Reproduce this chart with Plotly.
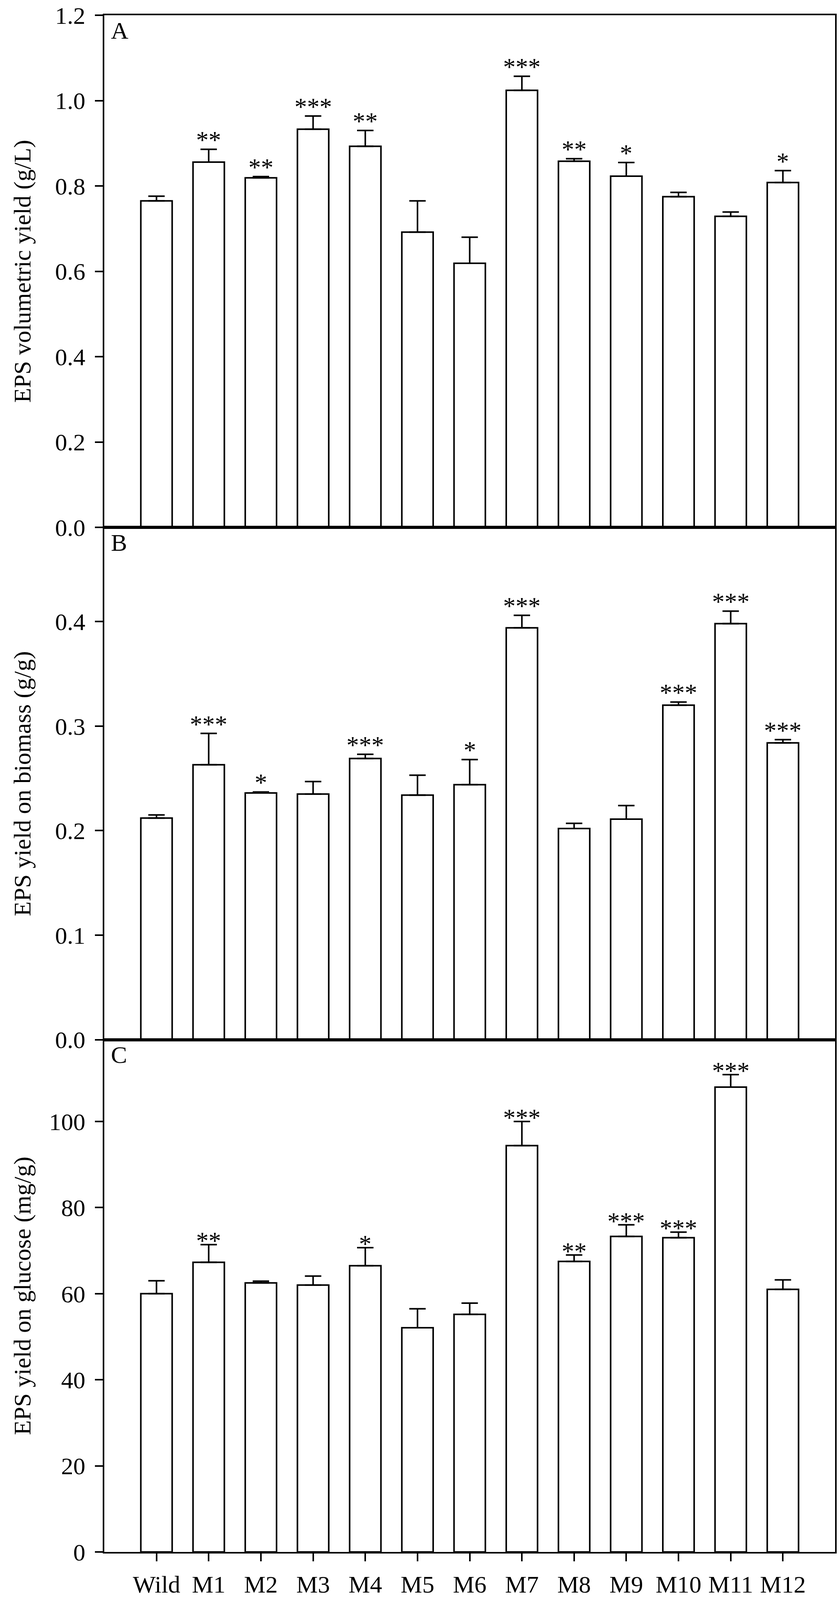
import plotly.graph_objects as go
from plotly.subplots import make_subplots

# ---- data ----
strains = ["Wild", "M1", "M2", "M3", "M4", "M5", "M6", "M7", "M8", "M9", "M10", "M11", "M12"]

# A: EPS volumetric yield (g/L)
vol_yield = [0.765, 0.856, 0.819, 0.933, 0.893, 0.692, 0.619, 1.024, 0.858, 0.823, 0.775, 0.729, 0.808]
vol_err = [0.011, 0.030, 0.003, 0.031, 0.037, 0.073, 0.061, 0.033, 0.006, 0.032, 0.010, 0.010, 0.028]
vol_sig = ["", "**", "**", "***", "**", "", "", "***", "**", "*", "", "", "*"]

# B: EPS yield on biomass (g/g)
bio_yield = [0.212, 0.263, 0.236, 0.235, 0.269, 0.234, 0.244, 0.394, 0.202, 0.211, 0.320, 0.398, 0.284]
bio_err = [0.003, 0.030, 0.001, 0.012, 0.004, 0.019, 0.024, 0.012, 0.005, 0.013, 0.003, 0.012, 0.003]
bio_sig = ["", "***", "*", "", "***", "", "*", "***", "", "", "***", "***", "***"]

# C: EPS yield on glucose (mg/g)
glc_yield = [60.0, 67.3, 62.5, 62.0, 66.5, 52.1, 55.2, 94.4, 67.5, 73.3, 73.0, 108.0, 61.0]
glc_err = [3.0, 4.1, 0.4, 2.1, 4.2, 4.4, 2.6, 5.6, 1.5, 2.7, 1.3, 2.9, 2.2]
glc_sig = ["", "**", "", "", "*", "", "", "***", "**", "***", "***", "***", ""]

panels = [
    ("A", "EPS volumetric yield (g/L)", vol_yield, vol_err, vol_sig, [0, 1.2], [0, 0.2, 0.4, 0.6, 0.8, 1.0, 1.2], ".1f", -14),
    ("B", "EPS yield on biomass (g/g)", bio_yield, bio_err, bio_sig, [0, 0.49], [0, 0.1, 0.2, 0.3, 0.4], ".1f", -14),
    ("C", "EPS yield on glucose (mg/g)", glc_yield, glc_err, glc_sig, [0, 119], [0, 20, 40, 60, 80, 100], "d", -28),
]

FONT = "Liberation Serif, Times New Roman, serif"
LW = 4
W, H = 2148, 4211
M_TOP, M_BOT = 39, 116

fig = make_subplots(rows=3, cols=1, shared_xaxes=True, vertical_spacing=0)

for i, (letter, ytitle, vals, errs, sig, yr, yt, fmt, shift) in enumerate(panels):
    row = i + 1
    ax = "" if row == 1 else str(row)
    fig.add_trace(go.Bar(
        x=strains, y=vals, width=0.6,
        marker=dict(color="white", line=dict(color="black", width=LW)),
        error_y=dict(type="data", symmetric=False, array=errs, arrayminus=[0] * len(errs),
                     color="black", thickness=LW, width=21),
        showlegend=False,
    ), row=row, col=1)

    # significance stars
    for s, v, e, star in zip(strains, vals, errs, sig):
        if star:
            fig.add_annotation(x=s, y=v + e, text=star, showarrow=False,
                               xref="x" + ax, yref="y" + ax,
                               yanchor="bottom", yshift=shift,
                               font=dict(family=FONT, size=64, color="black"))

    # panel letter
    fig.add_annotation(text=letter, x=0.008, y=0.998, showarrow=False,
                       xref="x" + ax + " domain", yref="y" + ax + " domain",
                       xanchor="left", yanchor="top",
                       font=dict(family=FONT, size=62, color="black"))

    # y title
    fig.add_annotation(text=ytitle, x=-0.112, y=0.5, textangle=-90, showarrow=False,
                       xref="paper", yref="y" + ax + " domain",
                       xanchor="center", yanchor="middle",
                       font=dict(family=FONT, size=62, color="black"))

    fig.update_yaxes(range=yr, tickvals=yt, tickformat=fmt,
                     showline=True, mirror=True, linecolor="black", linewidth=LW,
                     ticks="outside", ticklen=20, tickwidth=LW, tickcolor="black",
                     ticklabelstandoff=12,
                     showgrid=False, zeroline=False,
                     tickfont=dict(family=FONT, size=62, color="black"),
                     row=row, col=1)
    fig.update_xaxes(range=[-1, 13], showline=True, mirror=True, linecolor="black", linewidth=LW,
                     showgrid=False, zeroline=False,
                     ticks="outside" if row == 3 else "", ticklen=20, tickwidth=LW, tickcolor="black",
                     showticklabels=(row == 3), ticklabelstandoff=6,
                     tickfont=dict(family=FONT, size=62, color="black"),
                     row=row, col=1)

fig.update_layout(
    width=W, height=H,
    margin=dict(l=267, r=6, t=M_TOP, b=M_BOT),
    plot_bgcolor="white", paper_bgcolor="white",
    font=dict(family=FONT, color="black"),
)

# fit the figure to the visible page if the viewport is smaller than asked
fit_js = f"""
document.body.style.margin = '0px';
document.body.style.overflow = 'hidden';
var gd = document.getElementById('{{plot_id}}');
var w = window.innerWidth, h = window.innerHeight;
if (w && h && (w !== {W} || h !== {H})) {{
    var s = h / {H};
    Plotly.relayout(gd, {{width: w, height: h, 'margin.t': {M_TOP} * s, 'margin.b': {M_BOT} * s}});
}}
"""

fig.write_html("out.html", config={"displayModeBar": False}, post_script=fit_js)
